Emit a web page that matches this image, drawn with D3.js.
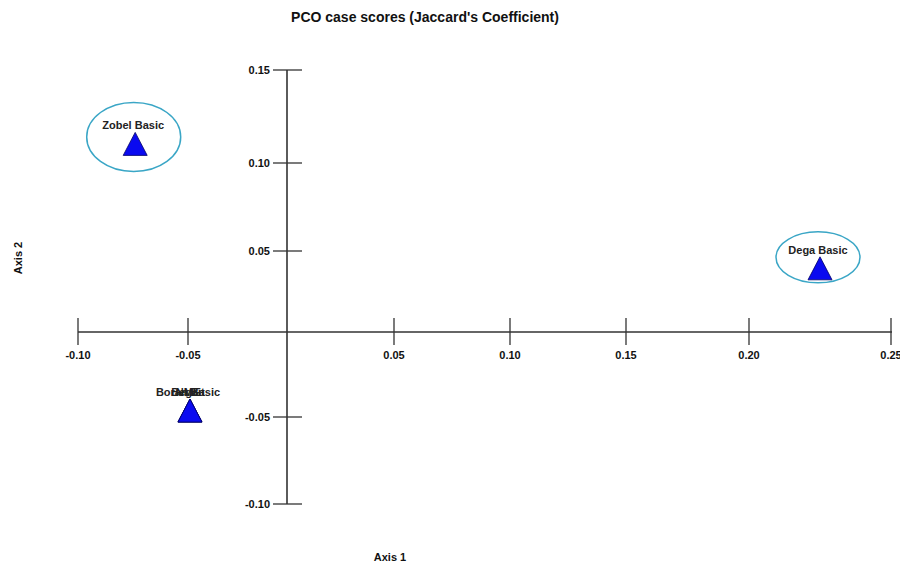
<!DOCTYPE html>
<html>
<head>
<meta charset="utf-8">
<script src="https://cdn.jsdelivr.net/npm/d3@7"></script>
<style>
  body { margin: 0; background: #fff; }
  svg { display: block; font-family: "Liberation Sans", Arial, sans-serif; }
</style>
</head>
<body>
<svg id="chart" width="900" height="567"></svg>
<script>
// ---- data ----
const caseNames = ["Zobel Basic", "Dega Basic", "Boran Basic", "Begait", "NME"];
const axis1Scores = [-0.074, 0.225, -0.049, -0.049, -0.049];
const axis2Scores = [0.110, 0.039, -0.0465, -0.0465, -0.0465];
const xTicks = [-0.10, -0.05, 0, 0.05, 0.10, 0.15, 0.20, 0.25];
const yTicks = [0.15, 0.10, 0.05, 0, -0.05, -0.10];
const xTickLabels = ["-0.10", "-0.05", "", "0.05", "0.10", "0.15", "0.20", "0.25"];
const yTickLabels = ["0.15", "0.10", "0.05", "", "-0.05", "-0.10"];
const circledCases = ["Zobel Basic", "Dega Basic"];

// ---- style / layout ----
const ellipseStyle = {
  "Zobel Basic": { dx: -1.5, dy: -7.5, rx: 47, ry: 34.5 },
  "Dega Basic": { dx: -2, dy: -11.5, rx: 42, ry: 25.5 }
};
const lineColor = "#333";

const svg = d3.select("#chart");

// the reference image's axes are not evenly spaced, so use polylinear scales
const x = d3.scaleLinear().domain(xTicks).range([78, 188, 287, 394, 510, 626, 749, 891]);
const y = d3.scaleLinear().domain(yTicks).range([70, 163, 251, 332, 417, 504]);

const x0 = x(0), y0 = y(0);

// title
svg.append("text").attr("x", 425).attr("y", 22).attr("text-anchor", "middle")
  .attr("font-size", 14).attr("font-weight", "bold").attr("fill", "#111")
  .text("PCO case scores (Jaccard's Coefficient)");

// x axis line
svg.append("line").attr("x1", x(xTicks[0])).attr("x2", x(xTicks[xTicks.length - 1]) + 1)
  .attr("y1", y0).attr("y2", y0).attr("stroke", lineColor).attr("stroke-width", 1.3);
// y axis line
svg.append("line").attr("x1", x0).attr("x2", x0)
  .attr("y1", y(yTicks[0])).attr("y2", y(yTicks[yTicks.length - 1]))
  .attr("stroke", lineColor).attr("stroke-width", 1.6);

// x ticks
const xt = svg.append("g");
xTicks.forEach((t, i) => {
  if (t === 0) return;
  xt.append("line").attr("x1", x(t)).attr("x2", x(t)).attr("y1", y0 - 14).attr("y2", y0 + 13)
    .attr("stroke", lineColor).attr("stroke-width", 1.3);
  xt.append("text").attr("x", x(t)).attr("y", y0 + 27).attr("text-anchor", "middle")
    .attr("font-size", 11).attr("font-weight", "bold").attr("fill", "#111")
    .text(xTickLabels[i]);
});

// y ticks
const yt = svg.append("g");
yTicks.forEach((t, i) => {
  if (t === 0) return;
  yt.append("line").attr("x1", x0 - 14).attr("x2", x0 + 15).attr("y1", y(t)).attr("y2", y(t))
    .attr("stroke", lineColor).attr("stroke-width", 1.3);
  yt.append("text").attr("x", x0 - 17).attr("y", y(t) + 4).attr("text-anchor", "end")
    .attr("font-size", 11).attr("font-weight", "bold").attr("fill", "#111")
    .text(yTickLabels[i]);
});

// axis titles
svg.append("text").attr("x", 390).attr("y", 561).attr("text-anchor", "middle")
  .attr("font-size", 11).attr("font-weight", "bold").attr("fill", "#111").text("Axis 1");
svg.append("text").attr("transform", "translate(22,258) rotate(-90)").attr("text-anchor", "middle")
  .attr("font-size", 11).attr("font-weight", "bold").attr("fill", "#111").text("Axis 2");

// points
const pts = caseNames.map((n, i) => ({ name: n, a1: axis1Scores[i], a2: axis2Scores[i] }));

// ellipses
svg.append("g").selectAll("ellipse")
  .data(pts.filter(d => circledCases.includes(d.name)))
  .join("ellipse")
  .attr("cx", d => x(d.a1) + ellipseStyle[d.name].dx)
  .attr("cy", d => y(d.a2) + ellipseStyle[d.name].dy)
  .attr("rx", d => ellipseStyle[d.name].rx)
  .attr("ry", d => ellipseStyle[d.name].ry)
  .attr("fill", "none").attr("stroke", "#3aa6c6").attr("stroke-width", 1.5);

// triangles
const tri = d3.symbol().type(d3.symbolTriangle).size(240);
svg.append("g").selectAll("path")
  .data(pts)
  .join("path")
  .attr("d", "M0,-12L12,11L-12,11Z")
  .attr("transform", d => `translate(${x(d.a1)},${y(d.a2)})`)
  .attr("fill", "#0a0af0").attr("stroke", "#000066").attr("stroke-width", 0.8);

// labels
svg.append("g").selectAll("text")
  .data(pts)
  .join("text")
  .attr("x", d => x(d.a1) - 2)
  .attr("y", d => y(d.a2) - 15)
  .attr("text-anchor", "middle")
  .attr("font-size", 11).attr("font-weight", "bold").attr("fill", "#222")
  .text(d => d.name);
</script>
</body>
</html>
